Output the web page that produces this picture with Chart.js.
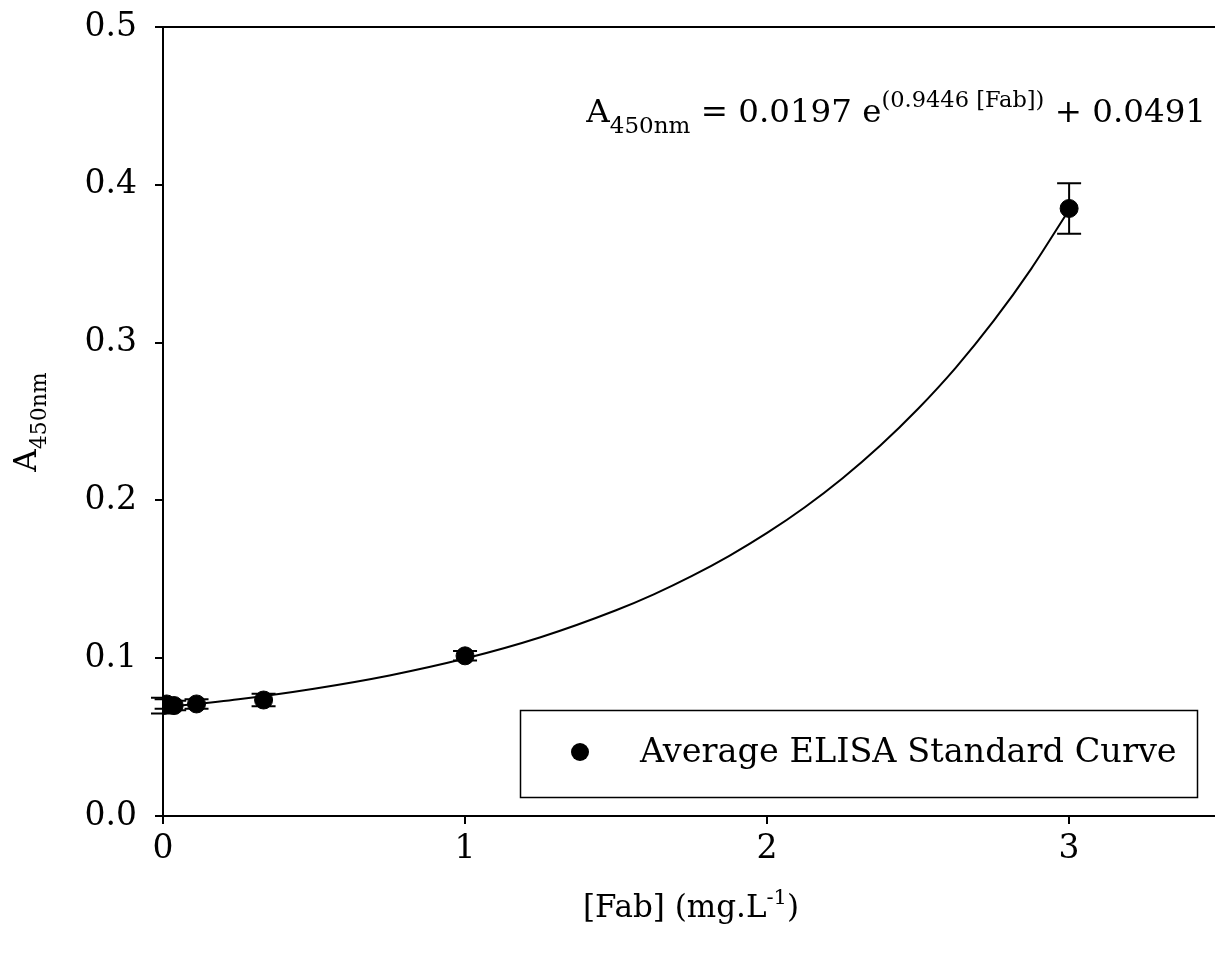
<!DOCTYPE html>
<html>
<head>
<meta charset="utf-8">
<script src="https://cdn.jsdelivr.net/npm/chart.js@4.4.1/dist/chart.umd.min.js"></script>
<style>
  html, body { margin: 0; padding: 0; background: #fff; }
  #wrap { width: 1215px; height: 965px; }
</style>
</head>
<body>
<div id="wrap"><canvas id="chart" width="1215" height="965"></canvas></div>
<script>
// measured points (mean absorbance and error)
const fabConc = [0, 0.012, 0.037, 0.111, 0.333, 1, 3];
const absMean = [0.070, 0.071, 0.070, 0.071, 0.0735, 0.1015, 0.385];
const absErr = [0.005, 0.003, 0.003, 0.003, 0.004, 0.003, 0.016];

// fitted curve
const fitX = [0, 0.25, 0.5, 0.75, 1, 1.25, 1.5, 1.625, 1.75, 1.875, 2, 2.125, 2.25, 2.375, 2.5, 2.625, 2.75, 2.875, 3];
const fitY = [0.0688, 0.0740, 0.0807, 0.0891, 0.0998, 0.1133, 0.1304, 0.1405, 0.1520, 0.1649, 0.1794, 0.1957, 0.2141, 0.2348, 0.2581, 0.2842, 0.3137, 0.3469, 0.3842];

const xTicks = [0, 1, 2, 3];
const yTicks = [0, 0.1, 0.2, 0.3, 0.4, 0.5];

const FONT = "'DejaVu Serif', serif";

// draw text made of runs with different sizes / offsets (sub and superscripts)
function drawRuns(ctx, x, y, runs) {
  let cx = x;
  runs.forEach(r => {
    ctx.font = r.size + 'px ' + FONT;
    ctx.fillText(r.text, cx, y + (r.dy || 0));
    cx += ctx.measureText(r.text).width;
  });
  return cx;
}
function runsWidth(ctx, runs) {
  let w = 0;
  runs.forEach(r => {
    ctx.font = r.size + 'px ' + FONT;
    w += ctx.measureText(r.text).width;
  });
  return w;
}

const extras = {
  id: 'extras',
  afterDatasetsDraw(chart) {
    const { ctx, scales } = chart;
    const xs = scales.x, ys = scales.y;
    ctx.save();
    // error bars
    ctx.strokeStyle = '#000';
    ctx.lineWidth = 2;
    fabConc.forEach((c, i) => {
      const px = xs.getPixelForValue(c);
      const top = ys.getPixelForValue(absMean[i] + absErr[i]);
      const bot = ys.getPixelForValue(absMean[i] - absErr[i]);
      ctx.beginPath();
      ctx.moveTo(px, top); ctx.lineTo(px, bot);
      ctx.moveTo(px - 12, top); ctx.lineTo(px + 12, top);
      ctx.moveTo(px - 12, bot); ctx.lineTo(px + 12, bot);
      ctx.stroke();
    });
    ctx.restore();
  },
  afterDraw(chart) {
    const { ctx, chartArea } = chart;
    ctx.save();
    ctx.fillStyle = '#000';
    ctx.strokeStyle = '#000';

    // top frame line
    ctx.lineWidth = 2;
    ctx.beginPath();
    ctx.moveTo(chartArea.left, chartArea.top);
    ctx.lineTo(chartArea.right, chartArea.top);
    ctx.stroke();

    // equation
    ctx.textBaseline = 'alphabetic';
    ctx.textAlign = 'left';
    const eq = [
      { text: 'A', size: 32.5 },
      { text: '450nm', size: 23, dy: 11 },
      { text: ' = 0.0197 e', size: 32.5 },
      { text: '(0.9446 [Fab])', size: 22.5, dy: -15 },
      { text: ' + 0.0491', size: 32.5 }
    ];
    drawRuns(ctx, 1206 - runsWidth(ctx, eq), 122, eq);

    // legend box
    ctx.lineWidth = 1.5;
    ctx.strokeRect(520.5, 710.5, 677, 87);
    ctx.beginPath();
    ctx.arc(580, 752, 9, 0, Math.PI * 2);
    ctx.fill();
    ctx.font = '33.5px ' + FONT;
    ctx.textBaseline = 'middle';
    ctx.fillText('Average ELISA Standard Curve', 640, 753);

    // x axis title
    ctx.textBaseline = 'alphabetic';
    const xt = [
      { text: '[Fab] (mg.L', size: 31 },
      { text: '-1', size: 21, dy: -13 },
      { text: ')', size: 31 }
    ];
    drawRuns(ctx, 691 - runsWidth(ctx, xt) / 2, 917, xt);

    // y axis title, rotated
    ctx.translate(36, 422);
    ctx.rotate(-Math.PI / 2);
    const yt = [
      { text: 'A', size: 31 },
      { text: '450nm', size: 22, dy: 10 }
    ];
    drawRuns(ctx, -runsWidth(ctx, yt) / 2, 0, yt);
    ctx.restore();
  }
};

new Chart(document.getElementById('chart'), {
  type: 'scatter',
  data: {
    datasets: [
      {
        label: 'Fit',
        type: 'line',
        data: fitX.map((x, i) => ({ x: x, y: fitY[i] })),
        borderColor: '#000',
        borderWidth: 2,
        pointRadius: 0,
        cubicInterpolationMode: 'monotone',
        fill: false,
        order: 2
      },
      {
        label: 'Average ELISA Standard Curve',
        data: fabConc.map((x, i) => ({ x: x, y: absMean[i] })),
        backgroundColor: '#000',
        borderColor: '#000',
        pointRadius: 9,
        order: 1
      }
    ]
  },
  options: {
    responsive: false,
    animation: false,
    events: [],
    layout: { autoPadding: false, padding: { top: 27, right: 0, bottom: 0, left: 0 } },
    plugins: {
      legend: { display: false },
      tooltip: { enabled: false }
    },
    scales: {
      x: {
        type: 'linear',
        min: 0,
        max: 3.483,
        afterBuildTicks: s => { s.ticks = xTicks.map(v => ({ value: v })); },
        afterFit: s => { s.height = 149; s.paddingLeft = 0; s.paddingRight = 0; },
        border: { display: true, color: '#000', width: 2 },
        grid: { drawOnChartArea: false, drawTicks: true, tickLength: 8, color: '#000', lineWidth: 2 },
        ticks: {
          color: '#000',
          font: { family: FONT, size: 33 },
          padding: 6,
          maxRotation: 0,
          callback: v => String(v)
        }
      },
      y: {
        type: 'linear',
        min: 0,
        max: 0.5,
        afterBuildTicks: s => { s.ticks = yTicks.map(v => ({ value: v })); },
        afterFit: s => { s.width = 163; s.paddingTop = 0; s.paddingBottom = 0; },
        border: { display: true, color: '#000', width: 2 },
        grid: { drawOnChartArea: false, drawTicks: true, tickLength: 8, color: '#000', lineWidth: 2 },
        ticks: {
          color: '#000',
          font: { family: FONT, size: 33 },
          padding: 18,
          callback: v => v.toFixed(1)
        }
      }
    }
  },
  plugins: [extras]
});
</script>
</body>
</html>
